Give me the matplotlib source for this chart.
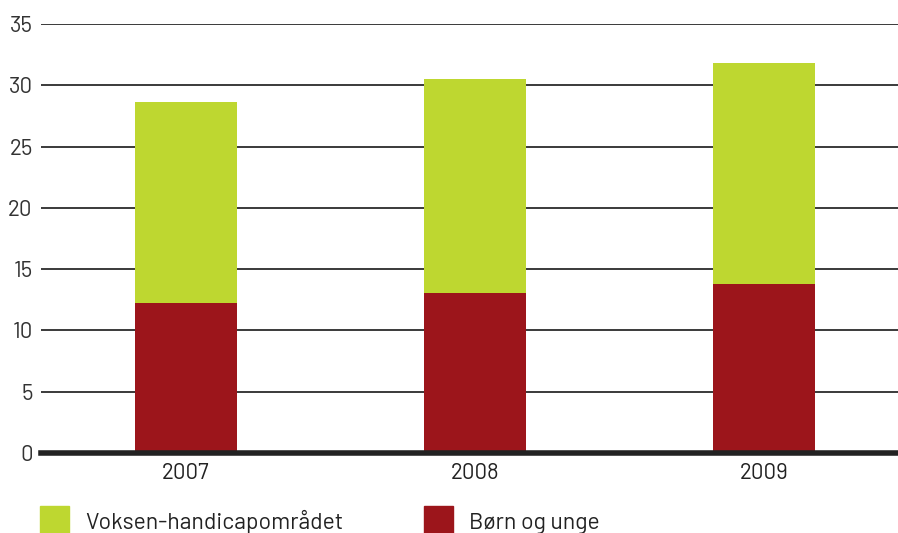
import matplotlib
matplotlib.use("Agg")
import matplotlib.pyplot as plt
from matplotlib import font_manager
from matplotlib.patches import Rectangle

years = ["2007", "2008", "2009"]
born_unge = [12.2, 13.05, 13.8]
voksen_handicap = [16.4, 17.45, 18.0]  # stacked on top of born_unge
y_ticks = [0, 5, 10, 15, 20, 25, 30, 35]
legend_labels = ["Voksen-handicapområdet", "Børn og unge"]

green = "#bed730"
red = "#9c151b"

# pick a DIN-like face if one is installed
installed = {f.name for f in font_manager.fontManager.ttflist}
font = "DejaVu Sans"
for name in ["Barlow", "Barlow Semi Condensed", "Roboto Condensed", "Roboto"]:
    if name in installed:
        font = name
        break
fam = [font, "DejaVu Sans"]

W, H = 898, 533
fig = plt.figure(figsize=(W / 100, H / 100), dpi=100)
ax = fig.add_axes([41 / W, 1 - 453 / H, 1 - 41 / W, (453 - 24) / H])

x = range(len(years))
ax.bar(x, born_unge, width=0.353, color=red, zorder=3)
ax.bar(x, voksen_handicap, bottom=born_unge, width=0.353, color=green, zorder=3)

ax.set_xlim(-0.5, 2.464)
ax.set_ylim(0, 35)
ax.set_yticks(y_ticks)
ax.set_xticks(list(x))
ax.set_xticklabels(years, family=fam, fontsize=16, color="#222222")
ax.set_yticklabels([str(t) for t in y_ticks], family=fam, fontsize=16, color="#333333")
ax.tick_params(axis="both", length=0)
ax.tick_params(axis="y", pad=6)
ax.tick_params(axis="x", pad=7)

for t in y_ticks[1:]:
    ax.axhline(t, color="#3a3a3a", lw=1.4, zorder=1)
ax.axhline(0, color="#222222", lw=4, zorder=4, clip_on=False)

for s in ax.spines.values():
    s.set_visible(False)

# legend along the bottom edge
for px, col, lab in zip([40, 424], [green, red], legend_labels):
    fig.patches.append(Rectangle((px / W, (H - 535) / H), 29 / W, 29 / H,
                                 transform=fig.transFigure, color=col, figure=fig))
    fig.text((px + 45) / W, (H - 529) / H, lab, family=fam, fontsize=16.5,
             color="#222222", va="baseline", ha="left")

fig.savefig("out.png", dpi=100)
